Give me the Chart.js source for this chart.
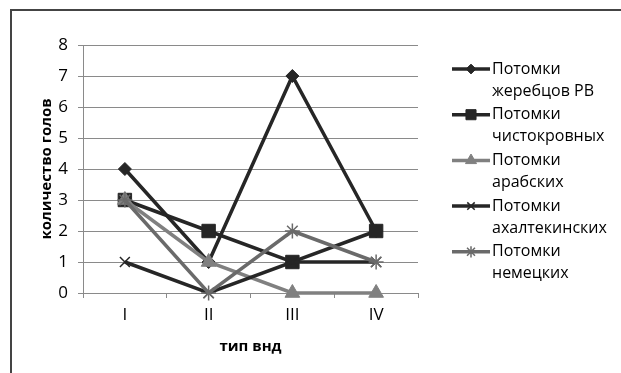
<!DOCTYPE html>
<html>
<head>
<meta charset="utf-8">
<script src="https://cdn.jsdelivr.net/npm/chart.js@4.4.1/dist/chart.umd.min.js"></script>
<style>
  html, body { margin: 0; padding: 0; background: #fff; }
  #wrap { width: 621px; height: 373px; position: relative; }
</style>
</head>
<body>
<div id="wrap"><canvas id="horseChart" width="621" height="373"></canvas></div>
<script>
// === Données ===
const categories = ['I', 'II', 'III', 'IV'];
const rvStallions = [4, 1, 7, 2];
const thoroughbred = [3, 2, 1, 2];
const arabian = [3, 1, 0, 0];
const akhalTeke = [1, 0, 1, 1];
const german = [3, 0, 2, 1];
const seriesLabels = [
    ['Потомки', 'жеребцов РВ'],
    ['Потомки', 'чистокровных'],
    ['Потомки', 'арабских'],
    ['Потомки', 'ахалтекинских'],
    ['Потомки', 'немецких']
];
const yMin = 0, yMax = 8, yStep = 1;

const FONT = "'Open Sans', 'DejaVu Sans', sans-serif";
const dark = '#262626';

function makeSeries(idx, data, color, style, radius, lineW) {
    return {
        label: seriesLabels[idx].join(' '),
        legendLines: seriesLabels[idx],
        data: data,
        borderColor: color,
        backgroundColor: color,
        borderWidth: 3.5,
        pointStyle: style,
        pointRadius: radius,
        pointHoverRadius: radius,
        pointBorderColor: color,
        pointBackgroundColor: color,
        pointBorderWidth: lineW,
        tension: 0,
        clip: false,
        order: 5 - idx
    };
}

// cadre gauche + haut
const framePlugin = {
    id: 'frame',
    beforeDraw(chart) {
        const ctx = chart.ctx;
        ctx.save();
        ctx.fillStyle = '#fff';
        ctx.fillRect(0, 0, chart.width, chart.height);
        ctx.strokeStyle = '#444';
        ctx.lineWidth = 2;
        ctx.beginPath();
        ctx.moveTo(11, chart.height);
        ctx.lineTo(11, 10);
        ctx.lineTo(chart.width, 10);
        ctx.stroke();
        ctx.restore();
    }
};

// légende à droite, façon Excel
const legendPlugin = {
    id: 'sideLegend',
    afterDraw(chart) {
        const ctx = chart.ctx;
        const x0 = 452, x1 = 490, top = 69, gap = 45.7, lineH = 22;
        ctx.save();
        chart.data.datasets.forEach((ds, i) => {
            const y = top + i * gap;
            ctx.strokeStyle = ds.borderColor;
            ctx.lineWidth = 3.5;
            ctx.beginPath();
            ctx.moveTo(x0, y);
            ctx.lineTo(x1, y);
            ctx.stroke();
            ctx.fillStyle = ds.pointBackgroundColor;
            ctx.strokeStyle = ds.pointBorderColor;
            ctx.lineWidth = ds.pointBorderWidth;
            Chart.helpers.drawPoint(ctx, {
                pointStyle: ds.pointStyle,
                radius: ds.pointRadius * 0.75,
                borderWidth: ds.pointBorderWidth,
                rotation: 0
            }, (x0 + x1) / 2, y);
            ctx.fillStyle = '#000';
            ctx.font = '16px ' + FONT;
            ctx.textBaseline = 'middle';
            ctx.textAlign = 'left';
            ds.legendLines.forEach((t, j) => ctx.fillText(t, x1 + 2, y + j * lineH));
        });
        ctx.restore();
    }
};

const ctx = document.getElementById('horseChart').getContext('2d');
new Chart(ctx, {
    type: 'line',
    data: {
        labels: categories,
        datasets: [
            makeSeries(0, rvStallions, dark, 'rectRot', 6.5, 1),
            makeSeries(1, thoroughbred, dark, 'rect', 9.5, 1),
            makeSeries(2, arabian, '#808080', 'triangle', 8.5, 1),
            makeSeries(3, akhalTeke, dark, 'crossRot', 7, 1.5),
            makeSeries(4, german, '#6a6a6a', 'star', 7.5, 1.5)
        ]
    },
    options: {
        responsive: false,
        animation: false,
        devicePixelRatio: 1,
        layout: { padding: { top: 45, right: 203, left: 0, bottom: 0 } },
        plugins: {
            legend: { display: false },
            tooltip: { enabled: false }
        },
        scales: {
            x: {
                offset: true,
                grid: {
                    offset: true,
                    drawOnChartArea: false,
                    drawTicks: true,
                    tickLength: 5,
                    color: '#8a8a8a'
                },
                border: { color: '#8a8a8a' },
                ticks: {
                    color: '#000',
                    padding: 7,
                    font: { family: FONT, size: 17 }
                },
                title: {
                    display: true,
                    text: 'тип внд',
                    color: '#000',
                    padding: { top: 0, bottom: 17 },
                    font: { family: FONT, size: 15, weight: 'bold' }
                },
                afterFit(scale) { scale.height = 80; }
            },
            y: {
                min: yMin,
                max: yMax,
                ticks: {
                    stepSize: yStep,
                    color: '#000',
                    padding: 10,
                    font: { family: FONT, size: 17 }
                },
                grid: {
                    color: '#8a8a8a',
                    tickLength: 5
                },
                border: { color: '#8a8a8a' },
                title: {
                    display: true,
                    text: 'количество голов',
                    color: '#000',
                    padding: { top: 38, bottom: 0 },
                    font: { family: FONT, size: 15, weight: 'bold' }
                },
                afterFit(scale) { scale.width = 83; }
            }
        }
    },
    plugins: [framePlugin, legendPlugin]
});
</script>
</body>
</html>
